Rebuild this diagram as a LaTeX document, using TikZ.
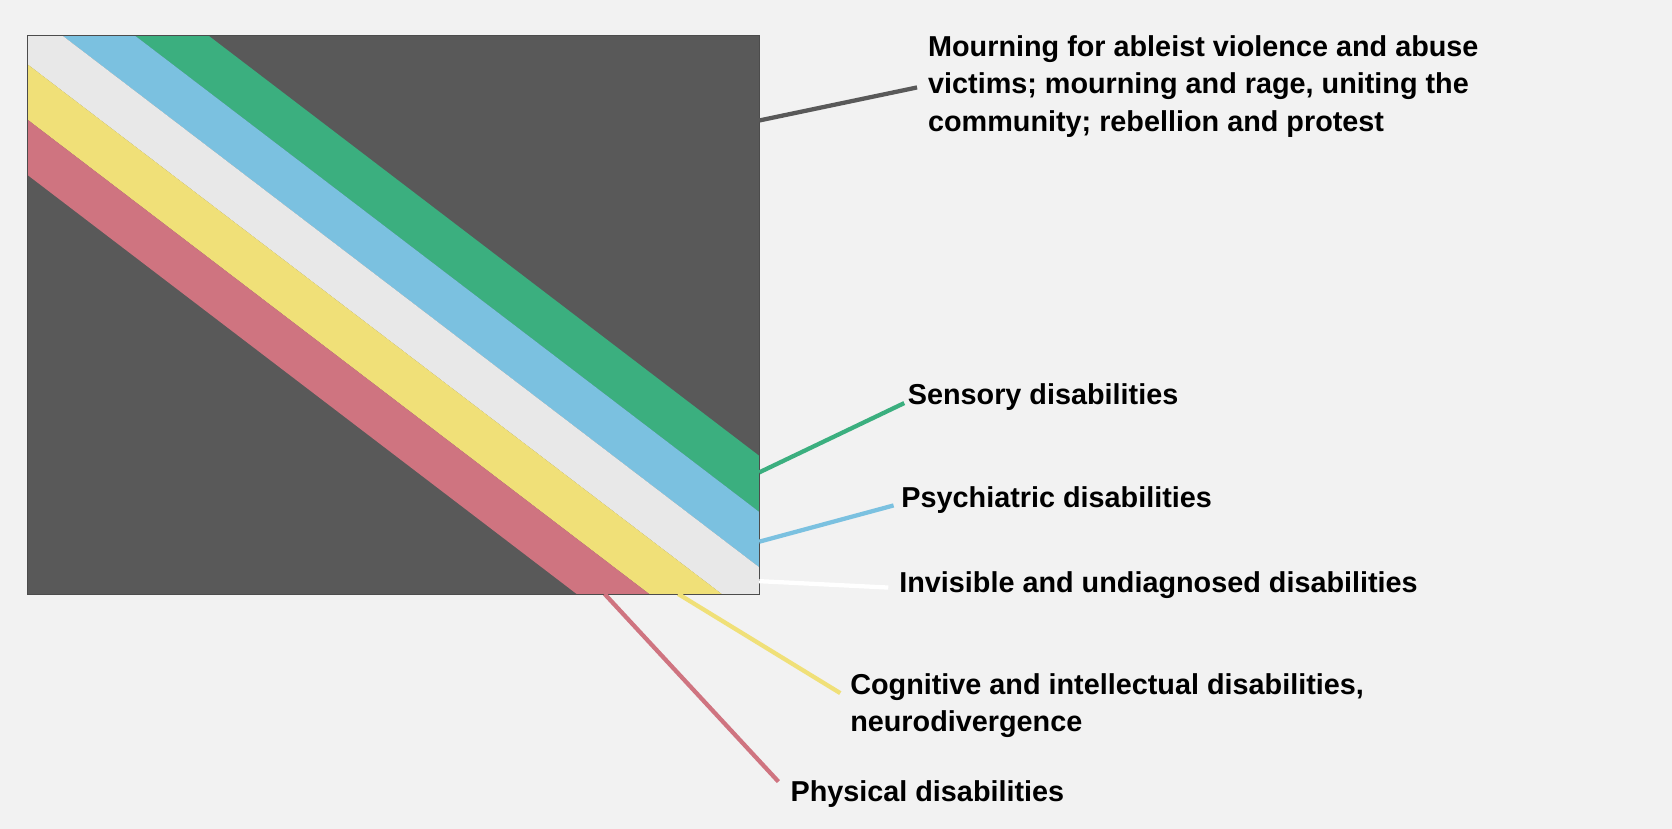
\documentclass[tikz,border=0pt]{standalone}
\usepackage{fontspec}
\setmainfont{Liberation Sans}
\definecolor{bg}{HTML}{F2F2F2}
\definecolor{dk}{HTML}{595959}
\definecolor{gr}{HTML}{3BAF7F}
\definecolor{bl}{HTML}{7BC1E0}
\definecolor{wh}{HTML}{E8E8E8}
\definecolor{ye}{HTML}{F0E078}
\definecolor{rd}{HTML}{CF7480}
\begin{document}
\begin{tikzpicture}[x=0.5pt,y=-0.5pt,
  lbl/.style={anchor=west,inner sep=0pt,font=\fontsize{13.5}{17.5}\selectfont\bfseries,align=left},
  lead/.style={line width=2pt}]
\fill[bg] (0,0) rectangle (1568,777);
\useasboundingbox (0,0) rectangle (1568,777);
\begin{scope}
\clip (26,33) rectangle (712,557);
\fill[dk] (26,33) rectangle (712,557);
% boundaries y = 33 + 0.763 (x - x0); drawn as bands
\foreach \a/\b/\c in {195/126/gr,126/58/bl,58/-10/wh,-10/-78/ye,-78/-146/rd}{
  \fill[\c] (\a-200,33-152.6) -- (\a+1000,33+763) -- (\b+1000,33+763) -- (\b-200,33-152.6) -- cycle;
}
\fill[wh] (-300,33) rectangle (26,557);
\end{scope}
\begin{scope}
\clip (26,33) rectangle (712,557);
\fill[wh] (-400,-400) -- (58-0,33) -- (-10,33) -- cycle;
\end{scope}
\draw[black!70,line width=0.4pt] (26,33) rectangle (712,557);
% labels
\node[lbl] (tm) at (870,81) {Mourning for ableist violence and abuse\\victims; mourning and rage, uniting the\\community; rebellion and protest};
\node[lbl] (ts) at (851,372) {Sensory disabilities};
\node[lbl] (tp) at (845,469) {Psychiatric disabilities};
\node[lbl] (ti) at (843,549) {Invisible and undiagnosed disabilities};
\node[lbl] (tc) at (797,662) {Cognitive and intellectual disabilities,\\neurodivergence};
\node[lbl] (tph) at (741,745) {Physical disabilities};
% leaders
\coordinate (m0) at (712,113); \coordinate (m1) at (860,82);
\coordinate (s0) at (712,443); \coordinate (s1) at (848,378);
\coordinate (p0) at (712,508); \coordinate (p1) at (838,474);
\coordinate (i0) at (712,545); \coordinate (i1) at (833,551);
\coordinate (c0) at (636,557); \coordinate (c1) at (788,650);
\coordinate (r0) at (567,557); \coordinate (r1) at (730,733);
\draw[lead,dk] (m0) -- (m1);
\draw[lead,gr] (s0) -- (s1);
\draw[lead,bl] (p0) -- (p1);
\draw[lead,white] (i0) -- (i1);
\draw[lead,ye] (c0) -- (c1);
\draw[lead,rd] (r0) -- (r1);
\end{tikzpicture}
\end{document}
